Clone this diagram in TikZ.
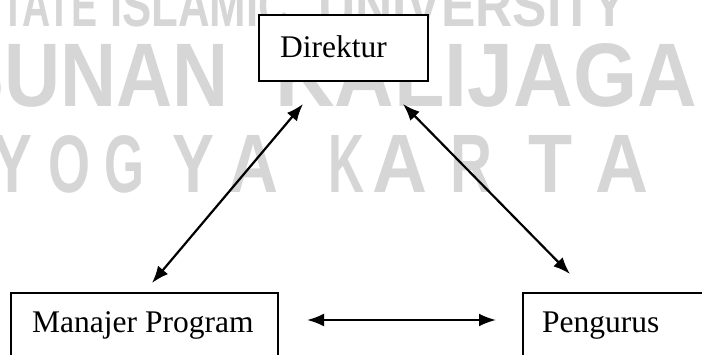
\documentclass[tikz,border=0pt]{standalone}
\usepackage{fontspec}
\setmainfont{Liberation Serif}
\setsansfont{Liberation Sans}
\usetikzlibrary{arrows.meta}
\definecolor{wmgray}{RGB}{214,214,214}
\tikzset{
  box/.style={draw=black, line width=1.5pt, fill=white, inner sep=0pt, anchor=north west},
  lbl/.style={font=\fontsize{31.5}{36}\selectfont, inner sep=0pt, anchor=base west},
  wm/.style={inner sep=0pt, anchor=north west, text=wmgray, font=\sffamily\bfseries},
  link/.style={line width=2.2pt, {Latex[length=17pt,width=13pt]}-{Latex[length=17pt,width=13pt]}},
}
\newcommand{\wmtext}[6]{\node[wm] (#1) at (#2,#3) {\resizebox{#4pt}{#5pt}{#6}};}
\begin{document}
\begin{tikzpicture}[x=1pt,y=-1pt]
\useasboundingbox (0,0) rectangle (702,354);
\clip (0,0) rectangle (702,354);
% watermark
\wmtext{w1}{-25}{-16}{122}{42}{STATE}
\wmtext{w2}{110}{-16}{180}{42}{ISLAMIC}
\wmtext{w3}{318}{-16}{309}{42}{UNIVERSITY}
\wmtext{w4}{-48}{43}{276}{63}{SUNAN}
\wmtext{w5}{275}{43}{422}{63}{KALIJAGA}
\wmtext{y1}{-8}{135}{40}{57}{Y}
\wmtext{y2}{48}{135}{42}{57}{O}
\wmtext{y3}{104}{135}{40}{57}{G}
\wmtext{y4}{172}{135}{42}{57}{Y}
\wmtext{y5}{228}{135}{50}{57}{A}
\wmtext{y6}{328}{135}{36}{57}{K}
\wmtext{y7}{372}{135}{55}{57}{A}
\wmtext{y8}{450}{135}{42}{57}{R}
\wmtext{y9}{528}{135}{44}{57}{T}
\wmtext{y10}{595}{135}{53}{57}{A}
% boxes
\node[box, minimum width=169pt, minimum height=66pt] (dir) at (258,14) {};
\node[box, minimum width=267pt, minimum height=70pt] (man) at (10,292) {};
\node[box, minimum width=200pt, minimum height=70pt] (pen) at (522,292) {};
\node[lbl] (dirt) at (280,57) {Direktur};
\node[lbl] (mant) at (32,332) {Manajer Program};
\node[lbl] (pent) at (542,332) {Pengurus};
% connectors
\coordinate (a1) at (303,104);
\coordinate (a2) at (152,283);
\coordinate (b1) at (403,104);
\coordinate (b2) at (570,274);
\coordinate (c1) at (307,320);
\coordinate (c2) at (496,320);
\draw[link] (a2) -- (a1);
\draw[link] (b1) -- (b2);
\draw[link] (c1) -- (c2);
\end{tikzpicture}
\end{document}
